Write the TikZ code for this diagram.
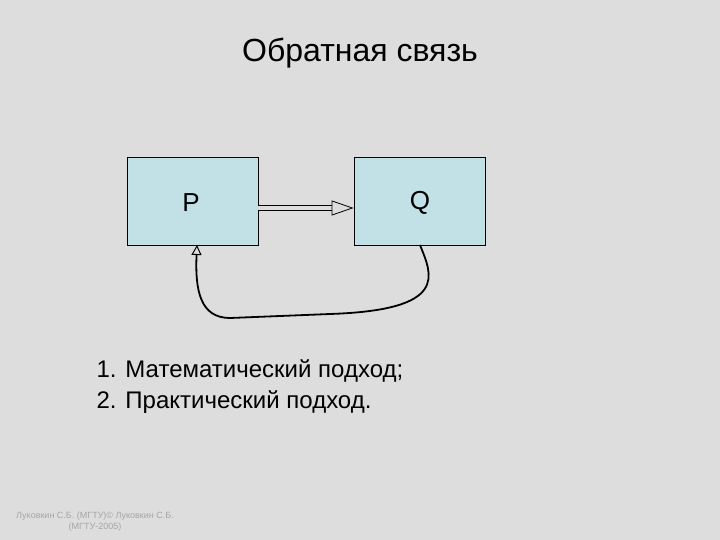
\documentclass[tikz,border=0pt]{standalone}
\usepackage{fontspec}
\setmainfont{Liberation Sans}
\usetikzlibrary{arrows.meta}
\definecolor{bg}{HTML}{DDDDDD}
\definecolor{boxc}{HTML}{C2E1E7}
\begin{document}
\begin{tikzpicture}[x=1pt,y=-1pt,
  blk/.style={draw=black,fill=boxc,minimum width=131pt,minimum height=88pt,inner sep=0pt,line width=0.8pt},
  lbl/.style={font=\fontsize{26}{30}\selectfont}]
\fill[bg] (0,0) rectangle (720,540);
\useasboundingbox (0,0) rectangle (720,540);
\node[font=\fontsize{32}{36}\selectfont] (title) at (360,53) {Обратная связь};
\node[blk] (p) at (192.5,201) {};
\node[blk] (q) at (419.5,201) {};
\node[lbl] (pl) at (191,203) {P};
\node[lbl] (ql) at (420,203) {Q};
\draw[double=bg,double distance=4pt,line width=0.8pt,-{Triangle[open,length=22pt,width=15pt]}] (p.east |- 0,208) -- (q.west |- 0,208);
\coordinate (qs) at (420,245);
\coordinate (ps) at (197,245);
\draw[line width=1.8pt,-{Triangle[open,length=10pt,width=10pt,line width=1pt]}] (qs) .. controls (432,275) and (450,310) .. (330,314) -- (230,318) .. controls (200,318) and (195,290) .. (ps);
\node[anchor=west,align=left,font=\fontsize{24}{31}\selectfont] (list) at (93,387) {1. Математический подход;\\2. Практический подход.};
\node[align=center,text=gray!70,font=\fontsize{9}{11}\selectfont] (foot) at (95,522) {Луковкин С.Б. (МГТУ)© Луковкин С.Б.\\(МГТУ-2005)};
\end{tikzpicture}
\end{document}
